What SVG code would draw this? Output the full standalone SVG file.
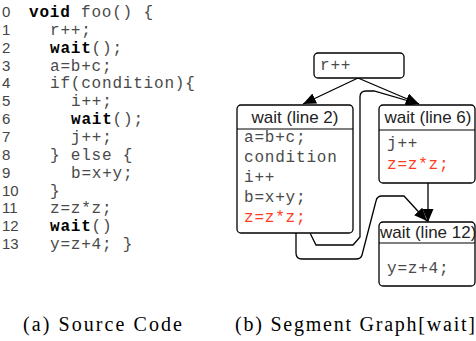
<svg xmlns="http://www.w3.org/2000/svg" width="476" height="341" viewBox="0 0 476 341">
<style>
.num{font-family:"Liberation Sans",Arial,sans-serif;font-size:15px;fill:#444}
.code{font-family:"Liberation Mono","Courier New",monospace;font-size:16px;letter-spacing:0.8px;fill:#4a4a4a}
.kw{font-weight:bold;fill:#000}
.red{fill:#ff3b22}
.hdr{font-family:"Liberation Sans",Arial,sans-serif;font-size:17px;fill:#222}
.box{fill:#fff;stroke:#000;stroke-width:1.3}
.div{stroke:#000;stroke-width:1.2}
.edge{fill:none;stroke:#000;stroke-width:1.3}
.cap{font-family:"Liberation Serif","Times New Roman",serif;font-size:20px;fill:#000}
</style>
<defs>
<marker id="ah" markerUnits="userSpaceOnUse" markerWidth="14" markerHeight="12" refX="13" refY="5.5" orient="auto">
<path d="M0,0 L13,5.5 L0,11 z" fill="#000"/>
</marker>
</defs>

<g id="source-code">
<text class="num" x="2" y="17">0</text>
<text class="num" x="2" y="35">1</text>
<text class="num" x="2" y="53">2</text>
<text class="num" x="2" y="71">3</text>
<text class="num" x="2" y="88">4</text>
<text class="num" x="2" y="106">5</text>
<text class="num" x="2" y="124">6</text>
<text class="num" x="2" y="142">7</text>
<text class="num" x="2" y="160">8</text>
<text class="num" x="2" y="178">9</text>
<text class="num" x="2" y="196">10</text>
<text class="num" x="2" y="213">11</text>
<text class="num" x="2" y="231">12</text>
<text class="num" x="2" y="249">13</text>
<text class="code" x="29" y="17"><tspan class="kw">void</tspan> foo() {</text>
<text class="code" x="50" y="35">r++;</text>
<text class="code" x="50" y="53"><tspan class="kw">wait</tspan>();</text>
<text class="code" x="50" y="71">a=b+c;</text>
<text class="code" x="50" y="88">if(condition){</text>
<text class="code" x="71" y="106">i++;</text>
<text class="code" x="71" y="124"><tspan class="kw">wait</tspan>();</text>
<text class="code" x="71" y="142">j++;</text>
<text class="code" x="50" y="160">} else {</text>
<text class="code" x="71" y="178">b=x+y;</text>
<text class="code" x="50" y="196">}</text>
<text class="code" x="50" y="213">z=z*z;</text>
<text class="code" x="50" y="231"><tspan class="kw">wait</tspan>()</text>
<text class="code" x="50" y="249">y=z+4; }</text>
</g>

<g id="connectors">
<path class="edge" d="M358,78 L303,104" marker-end="url(#ah)"/>
<path class="edge" d="M358,78 L419,104" marker-end="url(#ah)"/>
<path class="edge" d="M310,233 L316,245 L353,245 L360,237 L360,97 Q360,91 366,91 L374,91 L419,104" marker-end="url(#ah)"/>
<path class="edge" d="M296,233 L296,253 Q296,259 302,259 L356,259 Q361,259 362,255 L376,201 Q377,196 382,196 L404,196 L427,221" marker-end="url(#ah)"/>
<path class="edge" d="M428,183 L428,222" marker-end="url(#ah)"/>
</g>

<g id="node-r">
<rect class="box" x="314" y="53" width="90" height="25" rx="4"/>
<text class="code" x="320" y="70">r++</text>
</g>

<g id="node-wait2">
<rect class="box" x="237" y="105" width="116" height="128" rx="4"/>
<line class="div" x1="237" y1="129" x2="353" y2="129"/>
<text class="hdr" x="295" y="123" text-anchor="middle">wait (line 2)</text>
<text class="code" x="244" y="142">a=b+c;</text>
<text class="code" x="244" y="162">condition</text>
<text class="code" x="244" y="182">i++</text>
<text class="code" x="244" y="202">b=x+y;</text>
<text class="code red" x="244" y="222">z=z*z;</text>
</g>

<g id="node-wait6">
<rect class="box" x="379" y="105" width="96" height="78" rx="4"/>
<line class="div" x1="379" y1="130" x2="475" y2="130"/>
<text class="hdr" x="428" y="123" text-anchor="middle">wait (line 6)</text>
<text class="code" x="387" y="148">j++</text>
<text class="code red" x="387" y="169">z=z*z;</text>
</g>

<g id="node-wait12">
<rect class="box" x="379" y="222" width="96" height="64" rx="4"/>
<line class="div" x1="379" y1="243" x2="475" y2="243"/>
<text class="hdr" x="380" y="238">wait (line 12)</text>
<text class="code" x="387" y="273">y=z+4;</text>
</g>

<g id="captions">
<text class="cap" x="23" y="331" textLength="159" lengthAdjust="spacing">(a) Source Code</text>
<text class="cap" x="235" y="331" textLength="240" lengthAdjust="spacing">(b) Segment Graph[wait]</text>
</g>
</svg>
